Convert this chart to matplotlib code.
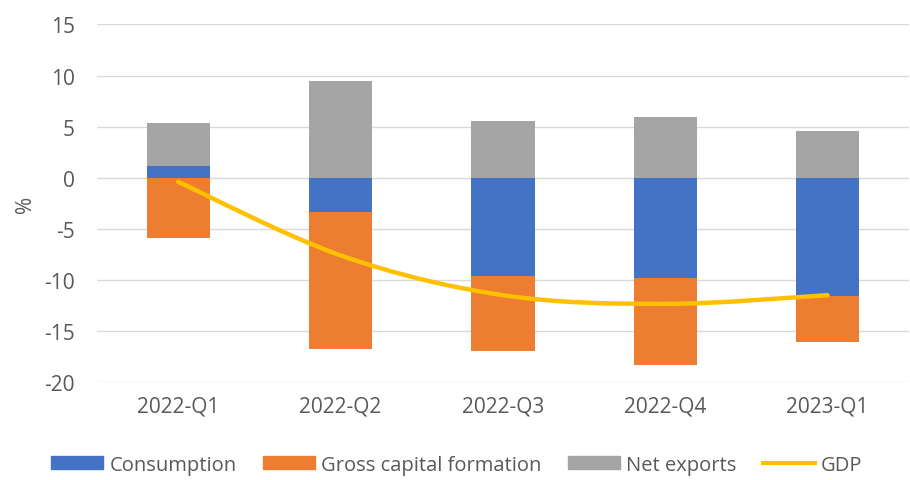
import numpy as np
import matplotlib.pyplot as plt
from matplotlib.path import Path
from matplotlib.patches import PathPatch, Patch
from matplotlib.lines import Line2D

plt.rcParams['font.family'] = ['Open Sans', 'DejaVu Sans']
plt.rcParams['axes.unicode_minus'] = False

quarters = ['2022-Q1', '2022-Q2', '2022-Q3', '2022-Q4', '2023-Q1']
consumption = [1.15, -3.4, -9.65, -9.8, -11.6]
gross_capital = [-5.9, -13.4, -7.35, -8.5, -4.45]
net_exports = [4.25, 9.45, 5.6, 5.9, 4.6]
gdp = [-0.4, -7.6, -11.5, -12.35, -11.5]

c_blue = '#4472C4'
c_orange = '#ED7D31'
c_gray = '#A5A5A5'
c_gold = '#FFC000'
txt = '#595959'

fig = plt.figure(figsize=(9.1, 4.81), dpi=100)
ax = fig.add_axes([0.1066, 0.2037, 0.892, 0.7433])

x = np.arange(len(quarters))
width = 0.39

# stack positives upwards and negatives downwards, Excel style
pos_base = np.zeros(len(x))
neg_base = np.zeros(len(x))
for vals, col in [(consumption, c_blue), (gross_capital, c_orange), (net_exports, c_gray)]:
    vals = np.array(vals)
    bottoms = np.where(vals >= 0, pos_base, neg_base)
    ax.bar(x, vals, width, bottom=bottoms, color=col, zorder=2)
    pos_base = pos_base + np.where(vals >= 0, vals, 0)
    neg_base = neg_base + np.where(vals < 0, vals, 0)

# smoothed GDP line (catmull-rom -> bezier)
pts = np.column_stack([x, gdp]).astype(float)
verts = [tuple(pts[0])]
codes = [Path.MOVETO]
t = 1 / 6
for i in range(len(pts) - 1):
    p0 = pts[i - 1] if i > 0 else pts[i]
    p1 = pts[i]
    p2 = pts[i + 1]
    p3 = pts[i + 2] if i + 2 < len(pts) else pts[i + 1]
    c1 = p1 + (p2 - p0) * t
    c2 = p2 - (p3 - p1) * t
    verts += [tuple(c1), tuple(c2), tuple(p2)]
    codes += [Path.CURVE4] * 3
ax.add_patch(PathPatch(Path(verts, codes), facecolor='none', edgecolor=c_gold,
                       lw=3.2, capstyle='round', zorder=3))

ax.set_xlim(-0.5, len(x) - 0.5)
ax.set_ylim(-20, 15)
ax.set_yticks(range(-20, 16, 5))
ax.set_xticks(x)
ax.set_xticklabels(quarters)
ax.grid(axis='y', color='#D9D9D9', lw=1, zorder=0)
for s in ax.spines.values():
    s.set_visible(False)
ax.tick_params(length=0, colors=txt, labelsize=15)
ax.tick_params(axis='y', pad=16)
ax.tick_params(axis='x', pad=10)
ax.set_ylabel('%', color=txt, fontsize=15, labelpad=6)

handles = [Patch(color=c_blue), Patch(color=c_orange), Patch(color=c_gray),
           Line2D([], [], color=c_gold, lw=3)]
labels = ['Consumption', 'Gross capital formation', 'Net exports', 'GDP']
fig.legend(handles, labels, loc='center', bbox_to_anchor=(0.502, 0.032), ncol=4,
           frameon=False, fontsize=14.5, handlelength=2.6, handleheight=0.6,
           handletextpad=0.3, columnspacing=1.3, labelcolor=txt)

fig.savefig('out.png', dpi=100)
